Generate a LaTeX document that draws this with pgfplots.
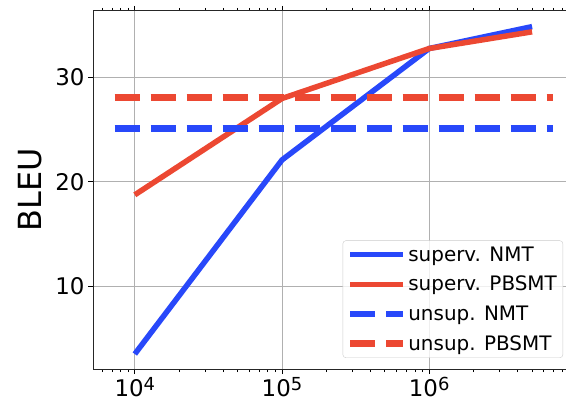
\documentclass[border=0pt]{standalone}
\usepackage{fontspec}
\setmainfont{DejaVu Sans}
\usepackage{pgfplots}
\pgfplotsset{compat=1.18}
\definecolor{nmtblue}{RGB}{40,72,250}
\definecolor{smtred}{RGB}{236,72,50}
\definecolor{gridgray}{RGB}{176,176,176}
\newcommand{\sexp}[1]{10\raisebox{5.7bp}{\fontsize{18}{20}\selectfont #1}}
\begin{document}
\begin{tikzpicture}
\begin{axis}[
  scale only axis, width=473bp, height=358bp,
  xmode=log, xmin=5.2e3, xmax=8.5e6, ymin=2.03, ymax=36.4,
  xtick={1e4,1e5,1e6},
  xticklabels={\sexp{4},\sexp{5},\sexp{6}},
  minor xtick={6e3,7e3,8e3,9e3,2e4,3e4,4e4,5e4,6e4,7e4,8e4,9e4,2e5,3e5,4e5,5e5,6e5,7e5,8e5,9e5,2e6,3e6,4e6,5e6,6e6,7e6,8e6},
  ytick={10,20,30},
  /pgf/number format/assume math mode=true,
  tick label style={font=\fontsize{23}{27}\selectfont},
  ylabel={BLEU}, ylabel style={font=\fontsize{32}{36}\selectfont},
  ylabel shift=7bp,
  tick align=outside, major tick length=5bp, minor tick length=3bp,
  tick style={black, line width=0.8bp},
  axis line style={line width=1bp, black!85},
  grid=major, major grid style={gridgray, line width=0.8bp},
  legend cell align=left,
  legend style={at={(0.9937,0.031)}, anchor=south east, draw=black!20, rounded corners=3bp,
    fill=white, fill opacity=0.8, text opacity=1, font=\fontsize{20}{24}\selectfont,
    row sep=9.5bp, inner xsep=4bp, inner ysep=4bp},
  legend image code/.code={\draw[#1] (0bp,0bp) -- (45bp,0bp); \path (0bp,0bp) -- (53bp,0bp);},
]
\addplot[nmtblue, line width=5.5bp] coordinates {(1e4,3.47) (1e5,22.1) (1e6,32.8) (5e6,34.9)};
\addlegendentry{superv. NMT}
\addplot[smtred, line width=5.5bp] coordinates {(1e4,18.75) (1e5,28.0) (1e6,32.8) (5e6,34.4)};
\addlegendentry{superv. PBSMT}
\addplot[nmtblue, line width=6.5bp, dash pattern=on 25bp off 11bp] coordinates {(7.3e3,25.1) (6.9e6,25.1)};
\addlegendentry{unsup. NMT}
\addplot[smtred, line width=6.5bp, dash pattern=on 25bp off 11bp] coordinates {(7.3e3,28.1) (6.9e6,28.1)};
\addlegendentry{unsup. PBSMT}
\end{axis}
\pgfresetboundingbox
\useasboundingbox ([xshift=-93bp,yshift=-30bp]current axis.south west) rectangle ([yshift=11bp]current axis.north east);
\end{tikzpicture}
\end{document}
